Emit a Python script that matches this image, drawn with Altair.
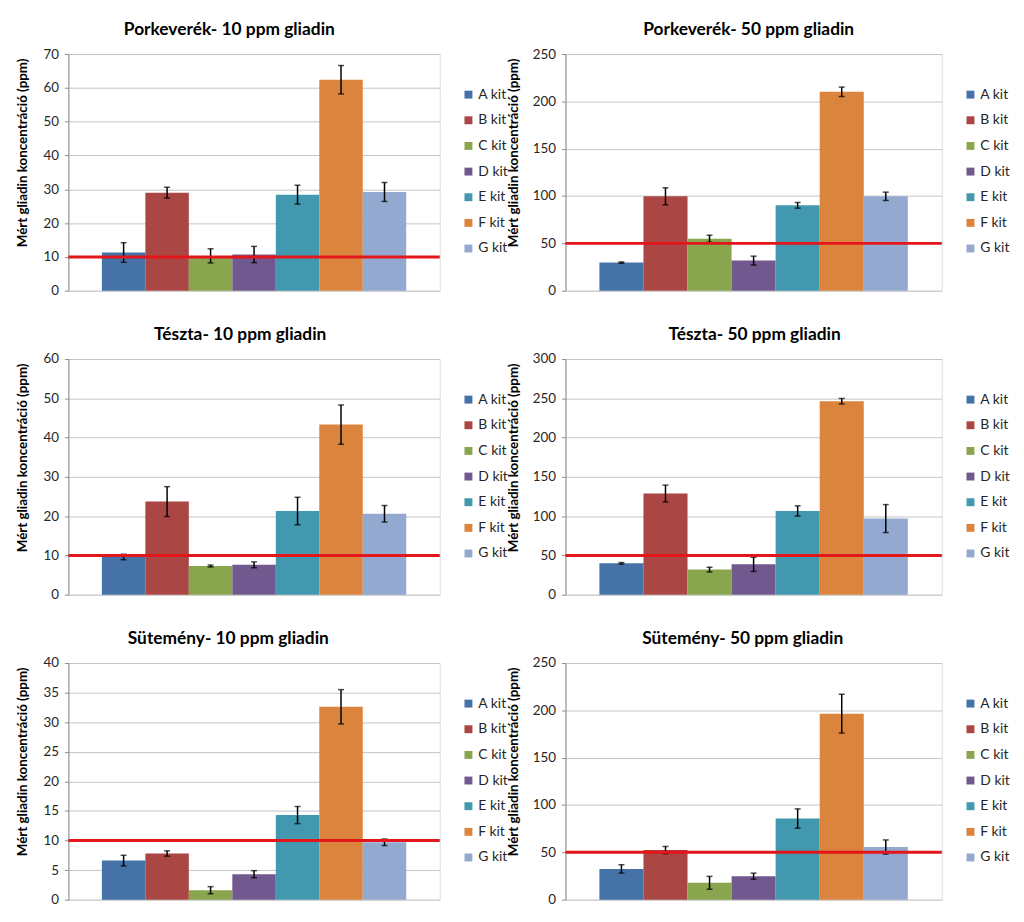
import altair as alt
import pandas as pd

KITS = ["A kit", "B kit", "C kit", "D kit", "E kit", "F kit", "G kit"]
COLORS = ["#4572A7", "#AA4643", "#89A54E", "#71588F", "#4198AF", "#DB843D", "#93A9CF"]

TITLES = [
    "Porkeverék- 10 ppm gliadin",
    "Porkeverék- 50 ppm gliadin",
    "Tészta- 10 ppm gliadin",
    "Tészta- 50 ppm gliadin",
    "Sütemény- 10 ppm gliadin",
    "Sütemény- 50 ppm gliadin",
]
Y_TITLE = "Mért gliadin koncentráció (ppm)"
THRESHOLDS = [10, 50, 10, 50, 10, 50]

TICKS_1 = [0, 10, 20, 30, 40, 50, 60, 70]
TICKS_2 = [0, 50, 100, 150, 200, 250]
TICKS_3 = [0, 10, 20, 30, 40, 50, 60]
TICKS_4 = [0, 50, 100, 150, 200, 250, 300]
TICKS_5 = [0, 5, 10, 15, 20, 25, 30, 35, 40]
TICKS_6 = [0, 50, 100, 150, 200, 250]

PORK10 = [11.3, 29.0, 10.3, 10.7, 28.4, 62.4, 29.2]
PORK10_ERR = [2.9, 1.6, 2.1, 2.4, 2.8, 4.2, 2.8]
PORK50 = [29.7, 99.7, 54.9, 31.8, 90.2, 210.1, 99.7]
PORK50_ERR = [0.7, 9.0, 3.7, 4.7, 3.0, 5.0, 4.4]
TESZTA10 = [9.6, 23.7, 7.3, 7.6, 21.3, 43.3, 20.6]
TESZTA10_ERR = [0.7, 3.8, 0.25, 0.75, 3.5, 5.0, 2.1]
TESZTA50 = [39.9, 128.8, 31.9, 38.6, 106.6, 246.3, 96.9]
TESZTA50_ERR = [1.0, 10.7, 3.0, 9.0, 6.5, 3.5, 17.8]
SUTI10 = [6.6, 7.8, 1.6, 4.3, 14.3, 32.6, 9.7]
SUTI10_ERR = [0.9, 0.45, 0.6, 0.6, 1.45, 2.9, 0.55]
SUTI50 = [32.5, 52.4, 17.8, 24.8, 85.7, 196.5, 55.6]
SUTI50_ERR = [4.4, 3.8, 6.8, 3.2, 10.2, 20.5, 7.5]

FONT = "Lato"


def panel(title, values, errors, ticks, threshold, width, height, title_dx, ytitle_x):
    df = pd.DataFrame({"kit": KITS, "value": values, "err": errors})
    df["lo"] = df["value"] - df["err"]
    df["hi"] = df["value"] + df["err"]
    base = alt.Chart(df)
    xenc = alt.X("kit:N", axis=None, sort=KITS,
                 scale=alt.Scale(paddingInner=0, paddingOuter=0.77))
    yscale = alt.Scale(domain=[ticks[0], ticks[-1]], nice=False)
    yaxis = alt.Axis(values=ticks, title=Y_TITLE, grid=True, labelOverlap=False,
                     gridColor="#C4C4C4", domainColor="#8C8C8C",
                     tickColor="#8C8C8C", tickSize=4, labelPadding=6,
                     labelFont=FONT, labelFontSize=13.5, labelColor="#262626",
                     titleFont=FONT, titleFontSize=13.5, titleFontWeight="bold",
                     titleColor="#000000", titleAnchor="end", titleAngle=270,
                     titleAlign="right", titleBaseline="bottom",
                     titleX=ytitle_x, titleY=4)

    def y(field):
        return alt.Y(field, scale=yscale, axis=yaxis)

    bars = base.mark_bar().encode(
        x=xenc,
        y=y("value:Q"),
        color=alt.Color("kit:N", sort=KITS,
                        scale=alt.Scale(domain=KITS, range=COLORS),
                        legend=alt.Legend(title=None, orient="none",
                                          legendX=width + 22, legendY=34,
                                          symbolType="square", symbolSize=64,
                                          symbolStrokeWidth=0, labelFont=FONT,
                                          labelFontSize=14, labelColor="#262626",
                                          labelOffset=3, rowPadding=11.9, padding=0)),
    )
    rule = base.mark_rule(color="black", strokeWidth=1.5).encode(
        x=xenc, y=y("lo:Q"), y2="hi:Q")
    cap_lo = base.mark_tick(color="black", thickness=1.5, size=6, orient="horizontal").encode(
        x=xenc, y=y("lo:Q"))
    cap_hi = base.mark_tick(color="black", thickness=1.5, size=6, orient="horizontal").encode(
        x=xenc, y=y("hi:Q"))
    limit = alt.Chart(pd.DataFrame({"t": [threshold]})).mark_rule(
        color="#E3161B", strokeWidth=3).encode(y=y("t:Q"))
    return alt.layer(bars, rule, cap_lo, cap_hi, limit).properties(
        width=width, height=height,
        title=alt.TitleParams(title, font=FONT, fontSize=17.5, fontWeight="bold",
                              color="#000000", anchor="middle", dx=title_dx, offset=9),
    )


p1 = panel(TITLES[0], PORK10, PORK10_ERR, TICKS_1, THRESHOLDS[0], 375, 239, -25, -39)
p2 = panel(TITLES[1], PORK50, PORK50_ERR, TICKS_2, THRESHOLDS[1], 380, 239, -5, -45)
p3 = panel(TITLES[2], TESZTA10, TESZTA10_ERR, TICKS_3, THRESHOLDS[2], 375, 238, -14, -39)
p4 = panel(TITLES[3], TESZTA50, TESZTA50_ERR, TICKS_4, THRESHOLDS[3], 380, 238, 1, -45)
p5 = panel(TITLES[4], SUTI10, SUTI10_ERR, TICKS_5, THRESHOLDS[4], 375, 239, -26, -39)
p6 = panel(TITLES[5], SUTI50, SUTI50_ERR, TICKS_6, THRESHOLDS[5], 380, 239, -11, -45)

chart = alt.concat(
    p1, p2, p3, p4, p5, p6, columns=2,
    spacing={"row": 69, "column": 127}, bounds="flush",
).resolve_scale(
    color="independent", y="independent", x="independent"
).resolve_legend(color="independent").properties(
    padding={"left": 7, "top": 8, "right": 5, "bottom": 5}
).configure_view(stroke=None).configure(background="white")

chart.save("out.html", embed_options={"renderer": "svg", "actions": False})
